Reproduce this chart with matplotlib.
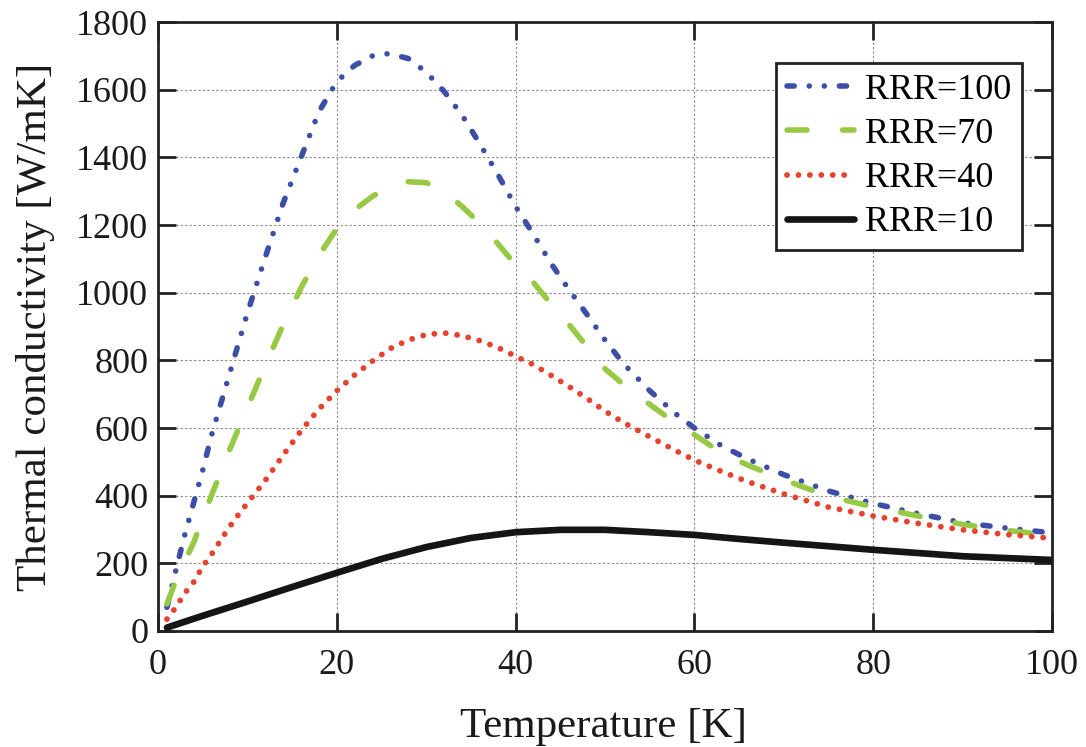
import matplotlib
matplotlib.use("Agg")
import matplotlib.pyplot as plt

# ── data ──────────────────────────────────────────────────────────────────────
temp_100 = [1, 2, 3, 4, 5, 6, 7, 8, 9, 10, 12, 14, 16, 18, 20, 22, 24, 25, 26,
            28, 30, 32, 34, 36, 38, 40, 42, 44, 46, 48, 50, 52, 55, 58, 60, 63,
            66, 70, 75, 80, 85, 90, 95, 100]
rrr_100 = [70, 180, 285, 380, 475, 580, 670, 760, 850, 940, 1105, 1265, 1400,
           1535, 1624, 1672, 1700, 1706, 1706, 1692, 1652, 1595, 1525, 1440,
           1350, 1255, 1172, 1085, 1008, 935, 860, 792, 710, 640, 600, 548,
           508, 462, 414, 377, 347, 320, 304, 290]

temp_70 = [1, 2, 4, 6, 8, 10, 12, 14, 16, 18, 20, 22, 24, 26, 28, 30, 32, 34,
           36, 38, 40, 42, 44, 46, 48, 50, 52, 55, 58, 60, 63, 66, 70, 75, 80,
           85, 90, 95, 100]
rrr_70 = [80, 150, 262, 402, 535, 660, 785, 905, 1015, 1110, 1190, 1245, 1285,
          1315, 1328, 1325, 1300, 1255, 1205, 1145, 1082, 1030, 965, 905, 840,
          775, 730, 670, 612, 580, 527, 490, 447, 398, 367, 340, 315, 297, 283]

temp_40 = [1, 2, 3, 4, 5, 6, 7, 8, 9, 10, 12, 14, 16, 18, 20, 22, 24, 26, 28,
           30, 32, 34, 36, 38, 40, 42, 44, 46, 48, 50, 52, 55, 58, 60, 63, 66,
           70, 75, 80, 85, 90, 95, 100]
rrr_40 = [35, 70, 112, 145, 191, 227, 268, 308, 344, 378, 445, 520, 592, 656,
          710, 757, 798, 835, 860, 876, 881, 873, 858, 838, 812, 787, 755, 722,
          687, 650, 617, 574, 532, 505, 472, 441, 405, 366, 340, 318, 299, 285,
          274]

temp_10 = [1, 5, 10, 15, 20, 25, 30, 35, 40, 45, 50, 55, 60, 65, 70, 80, 90, 100]
rrr_10 = [10, 45, 87, 130, 172, 213, 248, 275, 292, 299, 299, 292, 284, 272,
          261, 240, 221, 210]

labels = ["RRR=100", "RRR=70", "RRR=40", "RRR=10"]
x_ticks = [0, 20, 40, 60, 80, 100]
y_ticks = [0, 200, 400, 600, 800, 1000, 1200, 1400, 1600, 1800]

_BLUE = "#3d4ea6"
_GREEN = "#97c944"
_RED = "#e5432e"
_BLACK = "#151515"
_SPINE = "#222222"
_TEXT = "#1a1a1a"

plt.rcParams["font.family"] = ["Liberation Serif", "DejaVu Serif"]

fig = plt.figure(figsize=(10.86, 7.47), dpi=100)
ax = fig.add_axes([0.1455, 0.1553, 0.8232, 0.8152])

ax.plot(temp_100, rrr_100, color=_BLUE, linewidth=4.0, dash_capstyle="round",
        linestyle=(0, (1.3, 2.7, 0.01, 2.7, 0.01, 2.7)), label=labels[0])
ax.plot(temp_70, rrr_70, color=_GREEN, linewidth=4.0, dash_capstyle="round",
        linestyle=(0, (3.6, 6.4)), label=labels[1])
ax.plot(temp_40, rrr_40, color=_RED, linewidth=4.2, dash_capstyle="round",
        linestyle=(0, (0.01, 1.95)), label=labels[2])
ax.plot(temp_10, rrr_10, color=_BLACK, linewidth=4.8, solid_capstyle="round",
        label=labels[3])

ax.set_xlim(0, 100)
ax.set_ylim(0, 1800)
ax.set_xticks(x_ticks)
ax.set_yticks(y_ticks)
ax.tick_params(direction="in", length=13, width=2, labelsize=26,
               top=True, right=True, colors=_SPINE, labelcolor=_TEXT)
ax.tick_params(axis="x", pad=13)
ax.tick_params(axis="y", pad=7)

ax.grid(True, linestyle=(0, (2, 2)), linewidth=0.8, color="#8a8a8a")
ax.set_axisbelow(True)
for spine in ax.spines.values():
    spine.set_linewidth(2)
    spine.set_color(_SPINE)

ax.set_ylabel("Thermal conductivity [W/mK]", fontsize=31, labelpad=15,
              color=_TEXT)
fig.text(0.556, 0.002, "Temperature [K]", fontsize=31, ha="center",
         va="bottom", color=_TEXT)

leg = ax.legend(loc="upper right", bbox_to_anchor=(0.966, 0.933),
                borderaxespad=0, fontsize=26, handlelength=1.85,
                handletextpad=0.3, labelspacing=0.3, borderpad=0.3,
                fancybox=False, framealpha=1, edgecolor=_SPINE)
leg.get_frame().set_linewidth(2)

fig.savefig("out.png", dpi=100, facecolor="white")
